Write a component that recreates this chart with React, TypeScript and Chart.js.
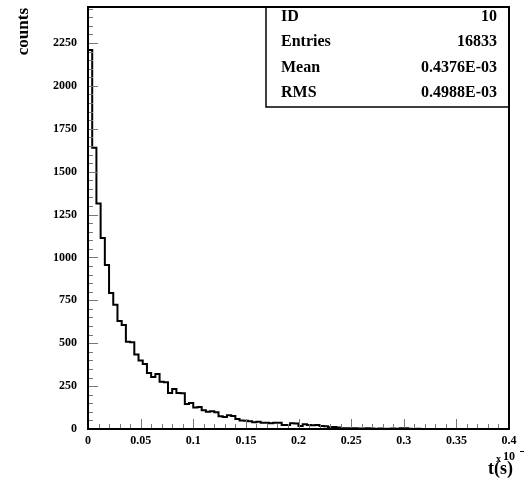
import React, { useEffect, useRef } from "react";
import { Chart, registerables } from "chart.js";

Chart.register(...registerables);

// Histogram: 100 bins over [0, 0.4]
const xMin = 0;
const xMax = 0.4;
const binCounts = [
  2210, 1640, 1315, 1113, 956, 793, 725, 630, 606, 508,
  506, 435, 400, 379, 326, 303, 320, 276, 272, 210,
  233, 210, 208, 146, 152, 125, 128, 110, 100, 103,
  98, 75, 70, 80, 76, 58, 50, 48, 45, 40,
  42, 36, 37, 33, 37, 36, 23, 24, 33, 32,
  17, 28, 23, 22, 23, 17, 16, 10, 11, 9,
  5, 4, 4, 4, 3, 3, 4, 3, 2, 3,
  2, 2, 3, 2, 5, 4, 1, 0, 1, 0,
  0, 0, 0, 0, 0, 0, 0, 0, 0, 0,
  0, 0, 0, 0, 0, 0, 0, 0, 0, 0,
];

const yMax = 2460;
const yTickValues = [0, 250, 500, 750, 1000, 1250, 1500, 1750, 2000, 2250];
const yTickLabels = ["0", "250", "500", "750", "1000", "1250", "1500", "1750", "2000", "2250"];
const xTickValues = [0, 0.05, 0.1, 0.15, 0.2, 0.25, 0.3, 0.35, 0.4];
const xTickLabels = ["0", "0.05", "0.1", "0.15", "0.2", "0.25", "0.3", "0.35", "0.4"];
const yMinorStep = 50;
const xMinorStep = 0.01;

const statLabels = ["ID", "Entries", "Mean", "RMS"];
const statValues = ["10", "16833", "0.4376E-03", "0.4988E-03"];

const yTitle = "counts";
const xTitle = "t(s)";
const xExponent = "10";

const FONT = "'Liberation Serif', 'Times New Roman', serif";

export default function App() {
  const ref = useRef<HTMLCanvasElement | null>(null);

  useEffect(() => {
    const canvas = ref.current;
    if (!canvas) return;
    const w = (xMax - xMin) / binCounts.length;
    const pts: { x: number; y: number }[] = [{ x: xMin, y: 0 }];
    binCounts.forEach((c, i) => pts.push({ x: xMin + i * w, y: c }));
    pts.push({ x: xMax, y: binCounts[binCounts.length - 1] });

    const overlay = {
      id: "rootStyle",
      afterDraw(chart: any) {
        const ctx = chart.ctx as CanvasRenderingContext2D;
        const a = chart.chartArea;
        const xs = chart.scales.x;
        const ys = chart.scales.y;
        ctx.save();
        // minor + major ticks
        ctx.strokeStyle = "#777";
        ctx.lineWidth = 1;
        ctx.beginPath();
        for (let v = 0; v <= yMax + 1e-9; v += yMinorStep) {
          const y = Math.round(ys.getPixelForValue(v)) + 0.5;
          const major = yTickValues.some((t) => Math.abs(t - v) < 1e-6);
          ctx.moveTo(a.left, y);
          ctx.lineTo(a.left + (major ? 10 : 5), y);
        }
        const nX = Math.round((xMax - xMin) / xMinorStep);
        for (let i = 0; i <= nX; i++) {
          const v = xMin + i * xMinorStep;
          const x = Math.round(xs.getPixelForValue(v)) + 0.5;
          const major = xTickValues.some((t) => Math.abs(t - v) < 1e-6);
          ctx.moveTo(x, a.bottom);
          ctx.lineTo(x, a.bottom - (major ? 10 : 5));
        }
        ctx.stroke();
        // tick labels
        ctx.fillStyle = "#000";
        ctx.font = `bold 12px ${FONT}`;
        ctx.textAlign = "right";
        ctx.textBaseline = "middle";
        yTickValues.forEach((v, i) => {
          ctx.fillText(yTickLabels[i], a.left - 11, ys.getPixelForValue(v));
        });
        ctx.textAlign = "center";
        ctx.textBaseline = "top";
        xTickValues.forEach((v, i) => {
          ctx.fillText(xTickLabels[i], xs.getPixelForValue(v), a.bottom + 6);
        });
        // frame
        ctx.strokeStyle = "#000";
        ctx.lineWidth = 2;
        ctx.strokeRect(a.left, a.top, a.right - a.left, a.bottom - a.top);
        // stats box
        const bx = 266;
        const by = a.top;
        const bh = 100;
        ctx.fillStyle = "#fff";
        ctx.fillRect(bx, by + 1, a.right - bx - 1, bh - 1);
        ctx.lineWidth = 1.5;
        ctx.beginPath();
        ctx.moveTo(bx, by);
        ctx.lineTo(bx, by + bh);
        ctx.lineTo(a.right, by + bh);
        ctx.stroke();
        ctx.fillStyle = "#000";
        ctx.font = `bold 16px ${FONT}`;
        ctx.textBaseline = "middle";
        statLabels.forEach((l, i) => {
          const cy = by + 10 + i * 25.3;
          ctx.textAlign = "left";
          ctx.fillText(l, 281, cy);
          ctx.textAlign = "right";
          ctx.fillText(statValues[i], 497, cy);
        });
        // y title
        ctx.save();
        ctx.translate(24, 8);
        ctx.rotate(-Math.PI / 2);
        ctx.font = `bold 17px ${FONT}`;
        ctx.textAlign = "right";
        ctx.textBaseline = "middle";
        ctx.fillText(yTitle, 0, 0);
        ctx.restore();
        // x title
        ctx.textBaseline = "alphabetic";
        ctx.textAlign = "left";
        ctx.font = `bold 18px ${FONT}`;
        ctx.fillText(xTitle, 488, 474);
        ctx.font = `bold 10px ${FONT}`;
        ctx.fillText("x", 496, 462);
        ctx.font = `bold 12px ${FONT}`;
        ctx.fillText(xExponent, 503, 460);
        ctx.fillRect(520, 451, 4, 1);
        ctx.restore();
      },
    };

    const chart = new Chart(canvas, {
      type: "line",
      data: {
        datasets: [
          {
            data: pts,
            stepped: "before",
            borderColor: "#000",
            borderWidth: 2,
            pointRadius: 0,
            fill: false,
          },
        ],
      },
      options: {
        responsive: false,
        animation: false,
        parsing: false,
        layout: { padding: { top: 7, right: 16, left: 88, bottom: 54 } },
        plugins: { legend: { display: false }, tooltip: { enabled: false } },
        scales: {
          x: { type: "linear", min: xMin, max: xMax, display: false },
          y: { type: "linear", min: 0, max: yMax, display: false },
        },
      },
      plugins: [overlay],
    } as any);
    return () => chart.destroy();
  }, []);

  return (
    <div style={{ position: "absolute", left: 0, top: 0, width: 525, height: 483, background: "#fff" }}>
      <canvas ref={ref} width={525} height={483} />
    </div>
  );
}
